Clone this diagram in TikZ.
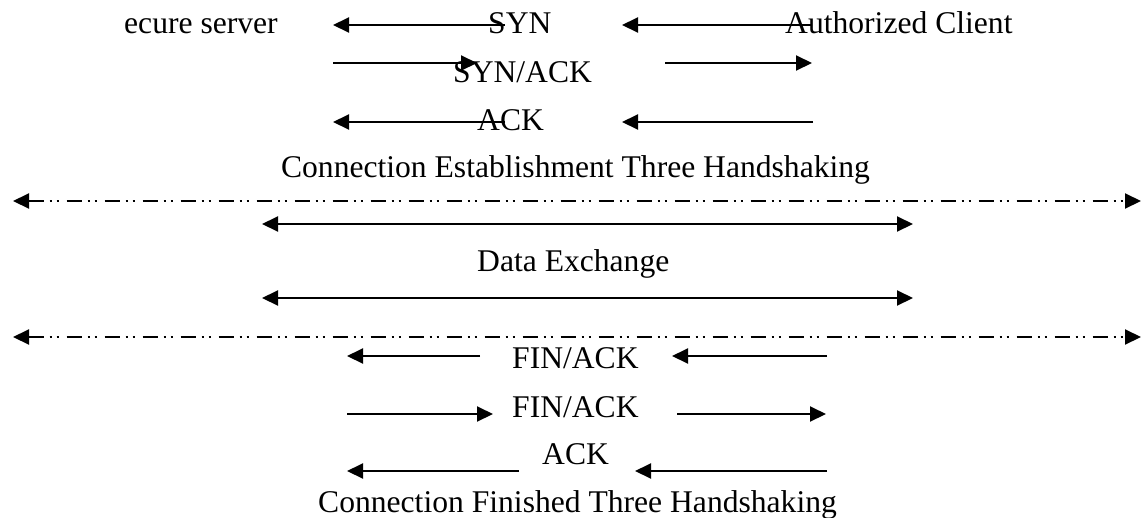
\documentclass[tikz,border=0pt]{standalone}
\usepackage{fontspec}
\setmainfont{Liberation Serif}
\usetikzlibrary{arrows.meta}
\tikzset{
  lbl/.style={inner sep=0pt, anchor=base west, font=\fontsize{31.6}{38}\selectfont},
  tipL/.tip={Triangle[length=16pt,width=15pt]},
  msg/.style={line width=2pt, -tipL},
  both/.style={line width=2pt, tipL-tipL},
  sep/.style={both, dash pattern=on 15pt off 6pt on 2pt off 5pt on 2pt off 8pt}
}
\begin{document}
\begin{tikzpicture}[x=1pt,y=-1pt]
\useasboundingbox (0,0) rectangle (1143,517);
% texts
\node[lbl] (srv) at (124,33) {ecure server};
\node[lbl] (syn) at (488,33) {SYN};
\node[lbl] (cli) at (785,33) {Authorized Client};
\node[lbl] (synack) at (453,82) {SYN/ACK};
\node[lbl] (ack1) at (477,130) {ACK};
\node[lbl, anchor=base] (est) at (575.5,177) {Connection Establishment Three Handshaking};
\node[lbl] (data) at (477,271.5) {Data Exchange};
\node[lbl] (fin1) at (512,368) {FIN/ACK};
\node[lbl] (fin2) at (512,417) {FIN/ACK};
\node[lbl] (ack2) at (542,464) {ACK};
\node[lbl] (fin) at (318,512) {Connection Finished Three Handshaking};
% endpoints
\coordinate (a1s) at (505,25);  \coordinate (a1e) at (333,25);
\coordinate (a2s) at (333,63);  \coordinate (a2e) at (477,63);
\coordinate (a3s) at (505,122); \coordinate (a3e) at (333,122);
\coordinate (b1s) at (812,25);  \coordinate (b1e) at (622,25);
\coordinate (b2s) at (665,63);  \coordinate (b2e) at (812,63);
\coordinate (b3s) at (813,122); \coordinate (b3e) at (622,122);
\coordinate (s1l) at (13,201);  \coordinate (s1r) at (1141,201);
\coordinate (d1l) at (262,224); \coordinate (d1r) at (913,224);
\coordinate (d2l) at (262,298); \coordinate (d2r) at (913,298);
\coordinate (s2l) at (13,337);  \coordinate (s2r) at (1141,337);
\coordinate (c1s) at (480,356); \coordinate (c1e) at (347,356);
\coordinate (e1s) at (827,356); \coordinate (e1e) at (672,356);
\coordinate (c2s) at (347,414); \coordinate (c2e) at (493,414);
\coordinate (e2s) at (677,414); \coordinate (e2e) at (826,414);
\coordinate (c3s) at (519,471); \coordinate (c3e) at (347,471);
\coordinate (e3s) at (827,471); \coordinate (e3e) at (635,471);
% connectors
\draw[msg] (a1s) -- (a1e);
\draw[msg] (a2s) -- (a2e);
\draw[msg] (a3s) -- (a3e);
\draw[msg] (b1s) -- (b1e);
\draw[msg] (b2s) -- (b2e);
\draw[msg] (b3s) -- (b3e);
\draw[sep] (s1l) -- (s1r);
\draw[both] (d1l) -- (d1r);
\draw[both] (d2l) -- (d2r);
\draw[sep] (s2l) -- (s2r);
\draw[msg] (c1s) -- (c1e);
\draw[msg] (e1s) -- (e1e);
\draw[msg] (c2s) -- (c2e);
\draw[msg] (e2s) -- (e2e);
\draw[msg] (c3s) -- (c3e);
\draw[msg] (e3s) -- (e3e);
\end{tikzpicture}
\end{document}
